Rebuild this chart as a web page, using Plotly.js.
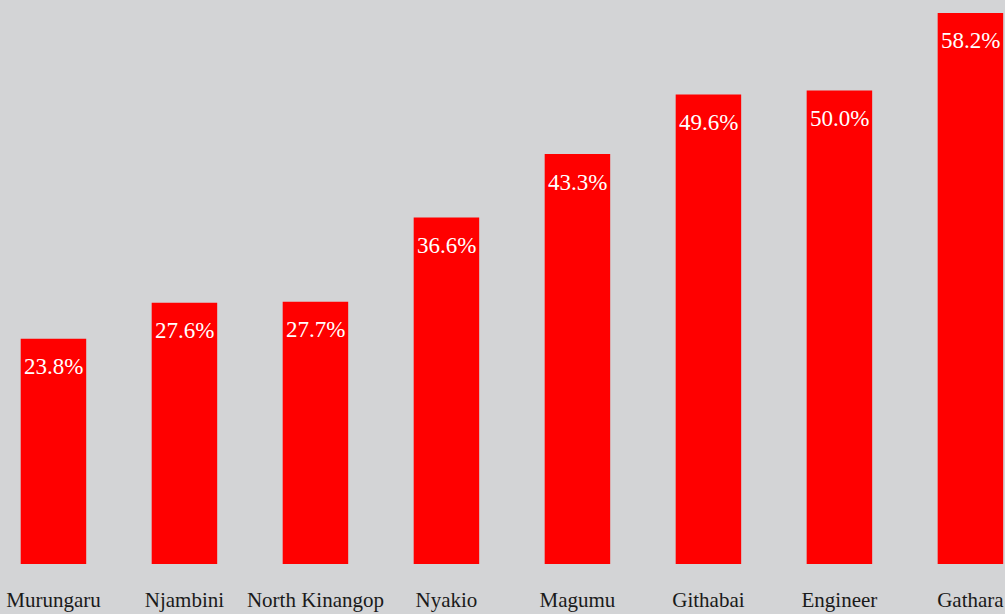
<!DOCTYPE html>
<html><head><meta charset="utf-8">
<script src="https://cdn.plot.ly/plotly-3.0.1.min.js"></script>
<style>html,body{margin:0;padding:0;background:#d3d4d6;}#chart{width:1005px;height:614px;}</style>
</head><body><div id="chart"></div>
<script>
const categories = ["Murungaru","Njambini","North Kinangop","Nyakio","Magumu","Githabai","Engineer","Gathara"];
const values = [23.8, 27.6, 27.7, 36.6, 43.3, 49.6, 50.0, 58.2];
const labels = values.map(v => v.toFixed(1) + "%");

const trace = {
  type: "bar", x: categories, y: values,
  marker: {color: "#ff0000", line: {width: 0}},
  hoverinfo: "none"
};
const annotations = categories.map((c, i) => ({
  x: c, y: values[i], xref: "x", yref: "y",
  text: labels[i], showarrow: false, yanchor: "middle", yshift: -28,
  font: {family: "Liberation Serif, serif", size: 23, color: "#ffffff"}
}));
const layout = {
  width: 1005, height: 614,
  margin: {l: 0, r: 0, t: 0, b: 50},
  paper_bgcolor: "#d3d4d6", plot_bgcolor: "#d3d4d6",
  bargap: 0.5, showlegend: false,
  xaxis: {range: [-0.408, 7.264], showgrid: false, zeroline: false, showline: false, ticks: "",
    tickfont: {family: "Liberation Serif, serif", size: 21, color: "#1a1a1a"}, ticklabelstandoff: 21},
  yaxis: {range: [0, 59.57], visible: false, showgrid: false, zeroline: false},
  annotations: annotations
};
Plotly.newPlot("chart", [trace], layout, {displayModeBar: false, staticPlot: true});
</script></body></html>
